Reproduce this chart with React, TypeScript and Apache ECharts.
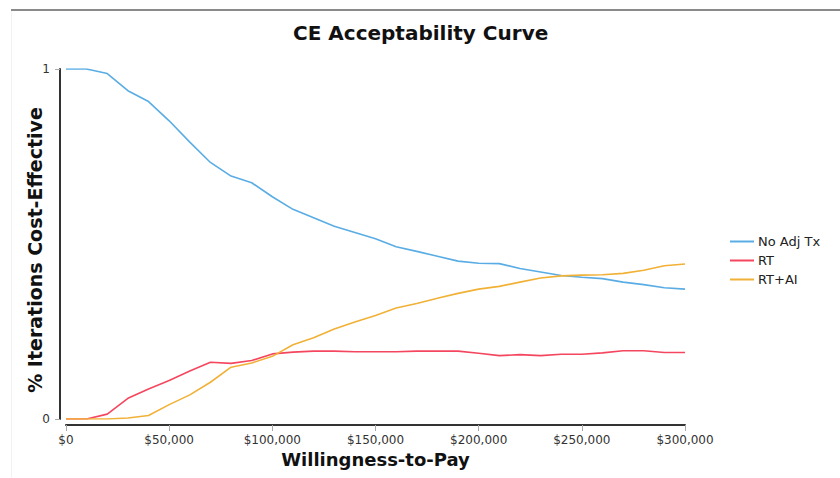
import React, { useEffect, useRef } from "react";
import * as echarts from "echarts";

const wtp = [
  0, 10000, 20000, 30000, 40000, 50000, 60000, 70000, 80000, 90000, 100000,
  110000, 120000, 130000, 140000, 150000, 160000, 170000, 180000, 190000, 200000,
  210000, 220000, 230000, 240000, 250000, 260000, 270000, 280000, 290000, 300000,
];

const noAdjTx = [
  1.0, 1.0, 0.987, 0.938, 0.907, 0.852, 0.791, 0.733, 0.694, 0.675, 0.635,
  0.599, 0.575, 0.551, 0.533, 0.515, 0.492, 0.479, 0.465, 0.451, 0.445,
  0.444, 0.43, 0.42, 0.41, 0.405, 0.401, 0.391, 0.384, 0.375, 0.371,
];

const rt = [
  0, 0, 0.014, 0.059, 0.086, 0.11, 0.137, 0.162, 0.159, 0.167, 0.186,
  0.191, 0.194, 0.194, 0.192, 0.192, 0.192, 0.194, 0.194, 0.194, 0.188,
  0.181, 0.184, 0.181, 0.185, 0.185, 0.189, 0.195, 0.195, 0.19, 0.19,
];

const rtai = [
  0, 0, 0, 0.003, 0.01, 0.041, 0.069, 0.105, 0.148, 0.16, 0.179,
  0.212, 0.232, 0.257, 0.277, 0.296, 0.317, 0.33, 0.345, 0.359, 0.371,
  0.379, 0.391, 0.403, 0.409, 0.411, 0.412, 0.416, 0.425, 0.438, 0.443,
];

const seriesNames = ["No Adj Tx", "RT", "RT+AI"];
const seriesColors = ["#5AADE4", "#F4475F", "#F1B136"];
const yTicks = [0, 1];
const xTickStep = 50000;

const FONT = "DejaVu Sans";

function fmtMoney(v: number): string {
  return "$" + v.toLocaleString("en-US");
}

export default function App() {
  const ref = useRef<HTMLDivElement>(null);

  useEffect(() => {
    if (!ref.current) return;
    const chart = echarts.init(ref.current, undefined, { renderer: "svg" });
    const lists = [noAdjTx, rt, rtai];
    chart.setOption({
      animation: false,
      backgroundColor: "#ffffff",
      title: {
        text: "CE Acceptability Curve",
        left: 293,
        top: 23,
        padding: 0,
        textStyle: {
          fontFamily: FONT,
          fontWeight: "bold",
          fontSize: 20,
          color: "#111",
        },
      },
      legend: {
        orient: "vertical",
        left: 730,
        top: 235,
        padding: 0,
        icon: "rect",
        itemWidth: 24,
        itemHeight: 2,
        itemGap: 6,
        data: seriesNames,
        textStyle: { fontFamily: FONT, fontSize: 13, color: "#222", padding: [0, 0, 0, -1] },
      },
      grid: { left: 66, right: 155, top: 69, bottom: 59, containLabel: false },
      xAxis: {
        type: "value",
        min: 0,
        max: 300000,
        interval: xTickStep,
        offset: 6,
        name: "Willingness-to-Pay",
        nameLocation: "middle",
        nameGap: 20,
        nameTextStyle: { fontFamily: FONT, fontWeight: "bold", fontSize: 18, color: "#111" },
        axisLine: { show: true, onZero: false, lineStyle: { color: "#333", width: 2 } },
        axisTick: { show: true, length: 6, lineStyle: { color: "#aaa", width: 1 } },
        axisLabel: {
          margin: 9,
          fontFamily: FONT,
          fontSize: 12,
          color: "#333",
          formatter: (v: number) => fmtMoney(v),
        },
        splitLine: { show: false },
      },
      yAxis: {
        type: "value",
        min: yTicks[0],
        max: yTicks[yTicks.length - 1],
        interval: 1,
        offset: 6,
        name: "% Iterations Cost-Effective",
        nameLocation: "middle",
        nameGap: 16,
        nameMoveOverlap: false,
        nameTextStyle: {
          fontFamily: FONT,
          fontWeight: "bold",
          fontSize: 19,
          color: "#111",
          padding: [0, 12, 0, 0],
        },
        axisLine: { show: true, onZero: false, lineStyle: { color: "#333", width: 2 } },
        axisTick: { show: true, length: 5, lineStyle: { color: "#aaa", width: 1 } },
        axisLabel: { margin: 10, fontFamily: FONT, fontSize: 12, color: "#333" },
        splitLine: { show: false },
      },
      graphic: [
        {
          type: "line",
          shape: { x1: 11, y1: 10, x2: 840, y2: 10 },
          style: { stroke: "#8a8a8a", lineWidth: 2 },
          silent: true,
        },
        {
          type: "line",
          shape: { x1: 11.5, y1: 11, x2: 11.5, y2: 478 },
          style: { stroke: "#f2f2f2", lineWidth: 1 },
          silent: true,
        },
      ],
      series: seriesNames.map((name, i) => ({
        name,
        type: "line",
        data: wtp.map((x, j) => [x, lists[i][j]]),
        symbol: "none",
        showSymbol: false,
        lineStyle: { color: seriesColors[i], width: 1.6 },
        itemStyle: { color: seriesColors[i] },
      })),
    });
    return () => chart.dispose();
  }, []);

  return (
    <div
      ref={ref}
      style={{ position: "fixed", left: 0, top: 0, width: 840, height: 478, background: "#fff" }}
    />
  );
}
